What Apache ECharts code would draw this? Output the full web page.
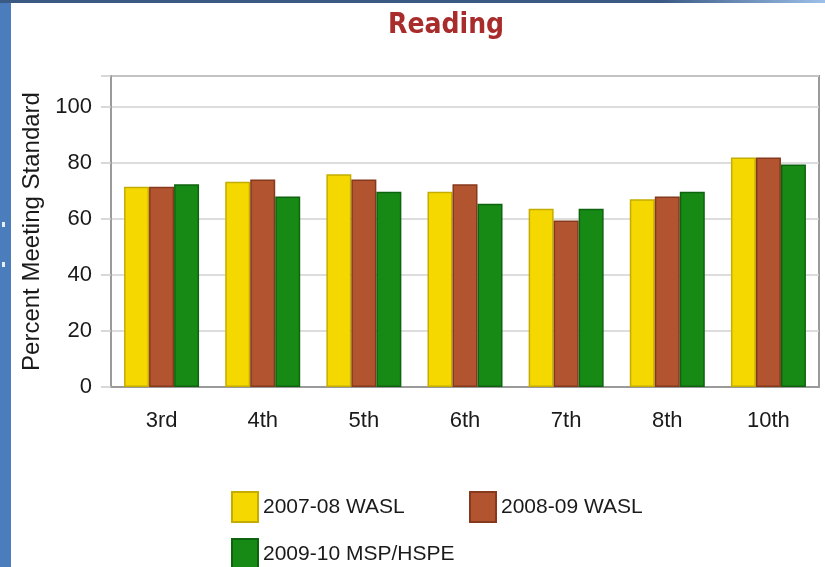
<!DOCTYPE html>
<html>
<head>
<meta charset="utf-8">
<script src="https://cdn.jsdelivr.net/npm/echarts@6/dist/echarts.min.js"></script>
<style>
html, body { margin: 0; padding: 0; background: #fff; }
#chart { width: 825px; height: 567px; }
</style>
</head>
<body>
<div id="chart"></div>
<script>
var grades = ["3rd", "4th", "5th", "6th", "7th", "8th", "10th"];
var seriesNames = ["2007-08 WASL", "2008-09 WASL", "2009-10 MSP/HSPE"];
var wasl0708 = [71.5, 73.3, 75.9, 69.7, 63.6, 67.0, 81.9];
var wasl0809 = [71.5, 74.1, 74.1, 72.4, 59.4, 68.0, 81.9];
var msp0910 = [72.4, 68.0, 69.7, 65.4, 63.6, 69.7, 79.4];

var chart = echarts.init(document.getElementById("chart"));
var txt = "Liberation Sans, Arial, sans-serif";

function barSeries(name, data, fill, border) {
  return {
    name: name,
    type: "bar",
    data: data,
    barWidth: 25,
    barGap: "0%",
    itemStyle: { color: fill, borderColor: border, borderWidth: 1.5 }
  };
}

var option = {
  backgroundColor: "#fff",
  animation: false,
  graphic: [
    { type: "rect", shape: { x: 0, y: 0, width: 11, height: 567 }, style: { fill: "#4b7dbd" } },
    { type: "rect", shape: { x: 0, y: 0, width: 825, height: 3 },
      style: { fill: new echarts.graphic.LinearGradient(0, 0, 1, 0, [
        { offset: 0, color: "#3a5a84" }, { offset: 0.8, color: "#3a5a84" }, { offset: 1, color: "#9cc0ea" }]) } },
    { type: "rect", shape: { x: 2, y: 222, width: 3, height: 5 }, style: { fill: "#e8eef8" } },
    { type: "rect", shape: { x: 2, y: 262, width: 3, height: 5 }, style: { fill: "#e8eef8" } }
  ],
  title: {
    text: "Reading",
    left: 383,
    top: 7,
    textStyle: { color: "#a82c2c", fontSize: 28, fontWeight: "bold", fontFamily: "DejaVu Sans Condensed, Liberation Sans, sans-serif" }
  },
  legend: [
    { data: [seriesNames[0]], left: 231, top: 491 },
    { data: [seriesNames[1]], left: 469, top: 491 },
    { data: [seriesNames[2]], left: 231, top: 538 }
  ].map(function (l) {
    l.itemWidth = 26;
    l.itemHeight = 30;
    l.itemGap = 6;
    l.padding = 0;
    l.icon = "rect";
    l.textStyle = { color: "#1a1a1a", fontSize: 21, fontFamily: txt };
    return l;
  }),
  grid: {
    left: 111, top: 76, right: 6, bottom: 180,
    show: true, borderColor: "#9a9a9a", borderWidth: 2
  },
  xAxis: {
    type: "category",
    data: grades,
    axisLine: { lineStyle: { color: "#9a9a9a", width: 2 } },
    axisTick: { show: false },
    axisLabel: { color: "#1a1a1a", fontSize: 22, fontFamily: txt, margin: 23 }
  },
  yAxis: {
    type: "value",
    min: 0,
    max: 111,
    interval: 20,
    name: "Percent Meeting Standard",
    nameLocation: "middle",
    nameRotate: 90,
    nameGap: 58,
    nameTextStyle: { color: "#1a1a1a", fontSize: 24, fontFamily: txt },
    axisLine: { show: true, lineStyle: { color: "#9a9a9a", width: 2 } },
    axisTick: { show: true, length: 10, lineStyle: { color: "#cccccc", width: 1.5 } },
    axisLabel: {
      color: "#1a1a1a", fontSize: 22, fontFamily: txt, margin: 19,
      formatter: function (v) { return v % 20 === 0 ? v : ""; }
    },
    splitLine: { lineStyle: { color: "#d2d2d2", width: 1.5 } }
  },
  series: [
    barSeries(seriesNames[0], wasl0708, "#f5d800", "#c4ac00"),
    barSeries(seriesNames[1], wasl0809, "#b35430", "#86391c"),
    barSeries(seriesNames[2], msp0910, "#178a16", "#0e640e")
  ]
};

chart.setOption(option);
</script>
</body>
</html>
